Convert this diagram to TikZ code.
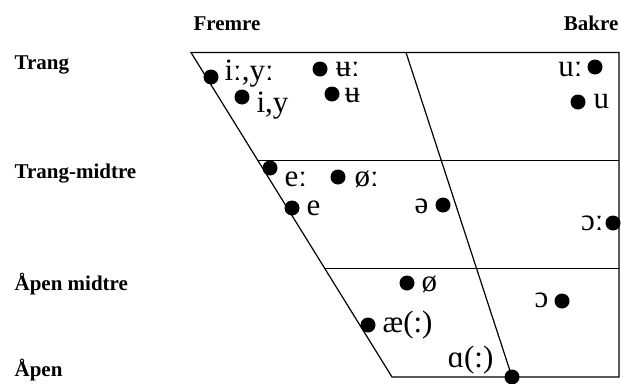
\documentclass[tikz,border=0pt]{standalone}
\usepackage{fontspec}
\setmainfont{Liberation Serif}
\newfontfamily\ipafont{Liberation Serif}
\usetikzlibrary{positioning}
\usetikzlibrary{calc}

\begin{document}
\begin{tikzpicture}[x=1pt,y=-1pt,
  line width=1.2pt,
  dot/.style={circle,fill=black,inner sep=0pt,minimum size=15pt},
  ipa/.style={font=\ipafont\fontsize{31}{31}\selectfont,inner sep=0pt},
  head/.style={font=\bfseries\fontsize{21}{21}\selectfont,inner sep=0pt}]
\useasboundingbox (0,0) rectangle (621,383);

% trapezoid corners
\coordinate (tl) at (191,52.5);
\coordinate (tr) at (619,52.5);
\coordinate (bl) at (392,377);
\coordinate (br) at (619,377);
\coordinate (tm) at (406,52.5);
\coordinate (bm) at (512,377);
\coordinate (ml1) at ($(tl)!1/3!(bl)$);
\coordinate (mr1) at ($(tr)!1/3!(br)$);
\coordinate (ml2) at ($(tl)!2/3!(bl)$);
\coordinate (mr2) at ($(tr)!2/3!(br)$);

\draw (tl) -- (tr) -- (br) -- (bl) -- cycle;
\draw (tm) -- (bm);
\draw (ml1) -- (mr1);
\draw (ml2) -- (mr2);

% headings
\node[head,anchor=base west] (fremre) at (193,30) {Fremre};
\node[head,anchor=base east] (bakre) at (619,30) {Bakre};
\node[head,anchor=base west] (trang) at (14,69) {Trang};
\node[head,anchor=base west] (trangmid) at (14,178) {Trang-midtre};
\node[head,anchor=base west] (apenmid) at (14,290) {Åpen midtre};
\node[head,anchor=base west] (apen) at (14,376) {Åpen};

% vowels
\node[dot] (iyl) at (211,77) {};
\node[ipa,anchor=base west] (iyltxt) at ($(iyl)+(13,3)$) {iː,yː};
\node[dot] (iy) at (242,97) {};
\node[ipa,anchor=base west] (iytxt) at ($(iy)+(14,15)$) {i,y};
\node[dot] (ubl) at (320,69) {};
\node[ipa,anchor=base west] (ubltxt) at ($(ubl)+(15,7)$) {ʉː};
\node[dot] (ub) at (332,94) {};
\node[ipa,anchor=base west] (ubtxt) at ($(ub)+(12,8)$) {ʉ};
\node[dot] (ul) at (595,67) {};
\node[ipa,anchor=base east] (ultxt) at ($(ul)+(-12,9)$) {uː};
\node[dot] (u) at (578,102) {};
\node[ipa,anchor=base west] (utxt) at ($(u)+(15,6)$) {u};

\node[dot] (el) at (270,168) {};
\node[ipa,anchor=base west] (eltxt) at ($(el)+(14,18)$) {eː};
\node[dot] (osl) at (338,177) {};
\node[ipa,anchor=base west] (osltxt) at ($(osl)+(16,9)$) {øː};
\node[dot] (e) at (292,208) {};
\node[ipa,anchor=base west] (etxt) at ($(e)+(14,7)$) {e};
\node[dot] (schwa) at (443,205) {};
\node[ipa,anchor=base east] (schwatxt) at ($(schwa)+(-14,8)$) {ə};
\node[dot] (ool) at (613,223) {};
\node[ipa,anchor=base east] (ooltxt) at ($(ool)+(-9,7)$) {ɔː};

\node[dot] (os) at (407,283) {};
\node[ipa,anchor=base west] (ostxt) at ($(os)+(14,8)$) {ø};
\node[dot] (oo) at (562,301) {};
\node[ipa,anchor=base east] (ootxt) at ($(oo)+(-13,6)$) {ɔ};
\node[dot] (ae) at (368,325) {};
\node[ipa,anchor=base west] (aetxt) at ($(ae)+(14,7)$) {æ(:)};
\node[dot] (aa) at (bm) {};
\node[ipa,anchor=base east] (aatxt) at ($(aa)+(-18,-10)$) {ɑ(:)};
\end{tikzpicture}
\end{document}
